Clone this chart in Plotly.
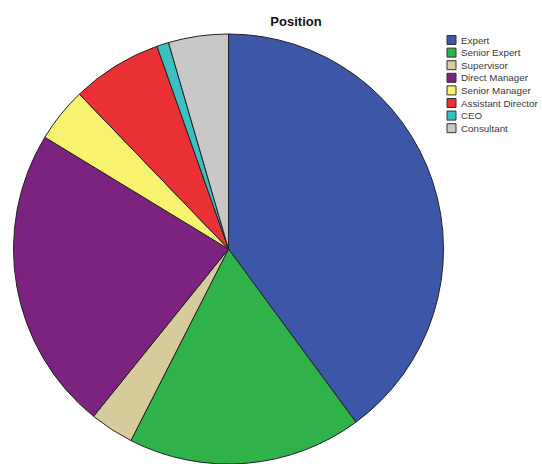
import plotly.graph_objects as go

# Share of respondents by position (percent)
positions = ["Expert", "Senior Expert", "Supervisor", "Direct Manager",
             "Senior Manager", "Assistant Director", "CEO", "Consultant"]
shares = [39.9, 17.6, 3.3, 22.9, 4.1, 6.8, 0.9, 4.5]
colors = ["#3D57A8", "#2FB24A", "#D5CB9B", "#7C2380",
          "#F7F36E", "#EC3136", "#3CBFC1", "#C8C8C8"]

W, H = 542, 464
cx, cy, r = 228.5, 249, 215  # pie centre and radius in px

fig = go.Figure(go.Pie(
    labels=positions,
    values=shares,
    sort=False,
    direction="clockwise",
    rotation=0,
    textinfo="none",
    marker=dict(colors=colors, line=dict(color="#222222", width=1)),
    domain=dict(x=[(cx - r) / W, (cx + r) / W],
                y=[(H - cy - r) / H, (H - cy + r) / H]),
    showlegend=False,
))

# Hand-built compact legend
leg_x, leg_y0, leg_dy, box = 447, 40, 12.6, 9
shapes, annotations = [], []
for i, (name, col) in enumerate(zip(positions, colors)):
    yc = leg_y0 + i * leg_dy
    shapes.append(dict(type="rect", xref="paper", yref="paper",
                       x0=leg_x / W, x1=(leg_x + box) / W,
                       y0=1 - (yc + box / 2) / H, y1=1 - (yc - box / 2) / H,
                       fillcolor=col, line=dict(color="#333333", width=1)))
    annotations.append(dict(text=name, xref="paper", yref="paper",
                            x=(leg_x + box + 3) / W, y=1 - yc / H,
                            xanchor="left", yanchor="middle", showarrow=False,
                            font=dict(family="Liberation Sans, Arial", size=9.8,
                                      color="#3a3a3a")))

fig.update_layout(
    width=W, height=H,
    margin=dict(l=0, r=0, t=0, b=0),
    paper_bgcolor="white", plot_bgcolor="white",
    title=dict(text="<b>Position</b>", x=296 / W, xanchor="center",
               y=1 - 21 / H, yanchor="middle", yref="container",
               font=dict(family="Liberation Sans, Arial", size=13, color="#111111")),
    shapes=shapes, annotations=annotations,
)

fig.write_html("out.html")
